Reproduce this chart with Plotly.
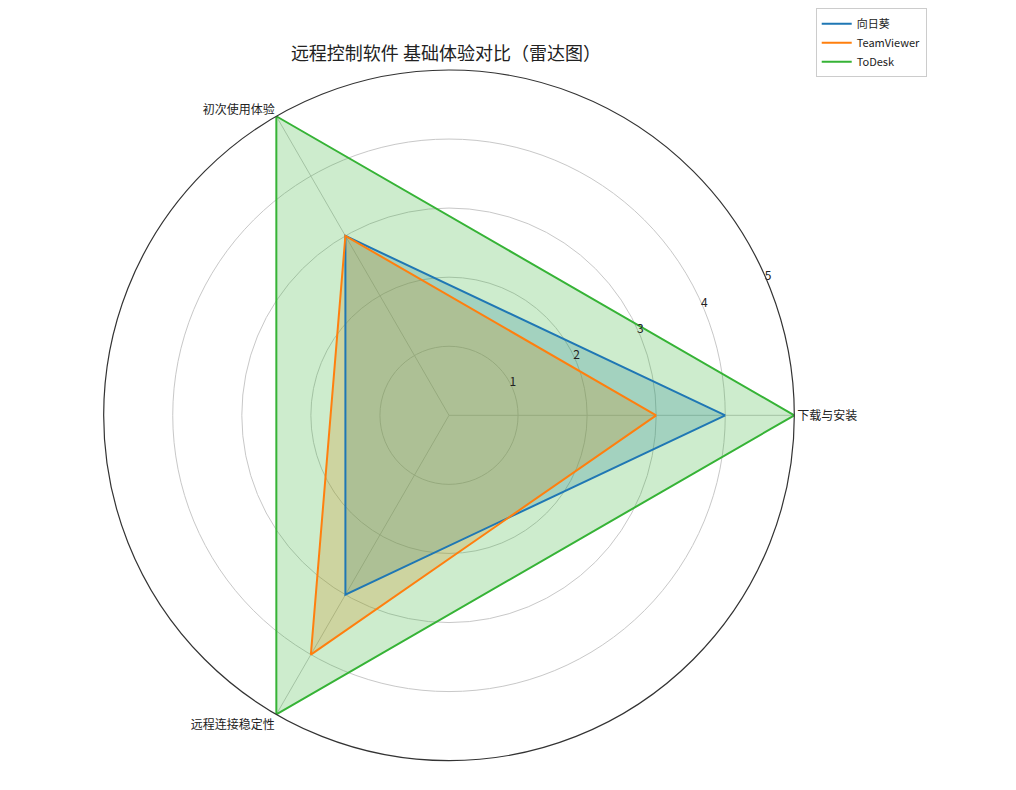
import plotly.graph_objects as go

# radar chart: three remote-control apps
categories = ['下载与安装', '初次使用体验', '远程连接稳定性']
angles = [0, 120, 240]
sunflower = [4, 3, 3]
teamviewer = [3, 3, 4]
todesk = [5, 5, 5]
radial_ticks = [1, 2, 3, 4, 5]
tick_angle = 22.5

series = [
    ('向日葵', sunflower, '#1f77b4', 'rgba(31,119,180,0.25)'),
    ('TeamViewer', teamviewer, '#ff7f0e', 'rgba(255,127,14,0.25)'),
    ('ToDesk', todesk, '#36b336', 'rgba(54,179,54,0.25)'),
]

FONT = 'Noto Sans CJK SC'

fig = go.Figure()
for name, vals, color, fill in series:
    # fill only, legend shows just the line
    fig.add_trace(go.Scatterpolar(
        r=vals + vals[:1], theta=angles + angles[:1],
        mode='lines', line=dict(width=0), fill='toself', fillcolor=fill,
        showlegend=False, hoverinfo='skip',
    ))
for name, vals, color, fill in series:
    fig.add_trace(go.Scatterpolar(
        r=vals + vals[:1], theta=angles + angles[:1],
        mode='lines', line=dict(color=color, width=2), name=name,
    ))

# radial tick labels along 22.5 deg, horizontal like matplotlib
fig.add_trace(go.Scatterpolar(
    r=radial_ticks, theta=[tick_angle] * len(radial_ticks),
    mode='text', text=[str(t) for t in radial_ticks],
    textposition='top center',
    textfont=dict(family=FONT, size=12, color='#222'),
    showlegend=False, hoverinfo='skip',
))

fig.update_layout(
    width=1016, height=790,
    margin=dict(l=0, r=0, t=0, b=0),
    paper_bgcolor='white',
    font=dict(family=FONT, size=12, color='#222'),
    title=dict(text='远程控制软件 基础体验对比（雷达图）', x=0.431, y=0.942,
               xanchor='center', yanchor='middle',
               font=dict(family=FONT, size=18, color='#222')),
    legend=dict(x=0.795, y=1.006, xanchor='left', yanchor='top',
                bordercolor='#cccccc', borderwidth=1, bgcolor='white',
                tracegroupgap=0,
                font=dict(family=FONT, size=11)),
    polar=dict(
        domain=dict(x=[0.0925, 0.7756], y=[0.0476, 0.9274]),
        bgcolor='white',
        radialaxis=dict(range=[0, 5], tickvals=radial_ticks,
                        showticklabels=False, showline=False, ticks='',
                        gridcolor='#c8c8c8', gridwidth=1),
        angularaxis=dict(rotation=0, direction='counterclockwise',
                         tickmode='array', tickvals=angles, ticktext=categories,
                         showline=True, linecolor='#333', linewidth=1.2,
                         gridcolor='#c8c8c8', ticks='',
                         tickfont=dict(size=12, color='#222')),
    ),
)

fig.write_html("out.html")
